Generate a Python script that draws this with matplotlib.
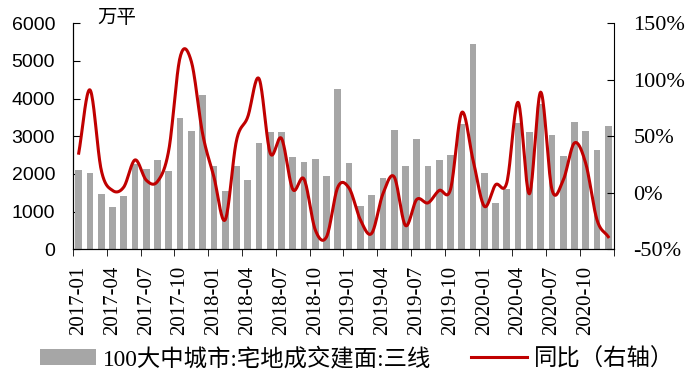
import numpy as np
import matplotlib
matplotlib.use('Agg')
import matplotlib.pyplot as plt
from matplotlib.ticker import FuncFormatter, FixedLocator

plt.rcParams['font.family'] = ['Liberation Serif', 'Noto Sans CJK SC']

# 月份标签 2017-01 ~ 2020-12
months = [f'{y}-{m:02d}' for y in range(2017, 2021) for m in range(1, 13)]

# 100大中城市:宅地成交建面:三线 (万平)
area = [2100, 2020, 1465, 1120, 1410, 2260, 2127, 2365, 2075, 3477, 3133, 4086,
        2206, 1545, 2206, 1836, 2807, 3107, 3107, 2445, 2304, 2383, 1942, 4263,
        2286, 1139, 1439, 1880, 3160, 2206, 2913, 2206, 2365, 2498, 3318, 5437,
        2021, 1227, 1598, 3363, 3107, 3850, 3027, 2480, 3372, 3133, 2630, 3266]

# 同比 (%)
yoy = [35, 91, 20, 2, 5, 29, 11, 10, 38, 120, 116, 52,
       14, -24, 46, 67, 101, 35, 48, 3, 12, -33, -39, 5,
       4, -24, -36, -1, 14, -29, -6, -9, 2, 3, 71, 29,
       -12, 7, 9, 80, -1, 89, 3, 11, 44, 26, -24, -39]


def smooth_curve(x, y, n=20):
    """Catmull-Rom 平滑, 类似 Excel 的平滑线"""
    x = np.asarray(x, float)
    y = np.asarray(y, float)
    px = np.concatenate([[2 * x[0] - x[1]], x, [2 * x[-1] - x[-2]]])
    py = np.concatenate([[2 * y[0] - y[1]], y, [2 * y[-1] - y[-2]]])
    xs, ys = [], []
    t = np.linspace(0, 1, n, endpoint=False)
    for i in range(1, len(px) - 2):
        for arr, out in ((px, xs), (py, ys)):
            p0, p1, p2, p3 = arr[i - 1], arr[i], arr[i + 1], arr[i + 2]
            out.extend(0.5 * (2 * p1 + (-p0 + p2) * t
                              + (2 * p0 - 5 * p1 + 4 * p2 - p3) * t ** 2
                              + (-p0 + 3 * p1 - 3 * p2 + p3) * t ** 3))
    xs.append(x[-1])
    ys.append(y[-1])
    return np.array(xs), np.array(ys)


x = np.arange(len(months))

fig = plt.figure(figsize=(6.96, 3.81), dpi=100)
ax = fig.add_axes([0.105, 0.346, 0.777, 0.593])
ax2 = ax.twinx()

bars = ax.bar(x, area, width=0.6, color='#A6A6A6', zorder=2)
sx, sy = smooth_curve(x, yoy)
line, = ax2.plot(sx, sy, color='#C00000', linewidth=2.2)

ax.set_xlim(-0.5, len(months) - 0.5)
ax.set_ylim(0, 6000)
ax.set_yticks(np.arange(0, 6001, 1000))
ax2.set_ylim(-50, 150)
ax2.set_yticks(np.arange(-50, 151, 50))
ax2.yaxis.set_major_formatter(FuncFormatter(lambda v, p: f'{v:.0f}%'))

# x 轴: 标签每季度, 刻度在柱子边界
ax.set_xticks(x[::3])
ax.set_xticklabels(months[::3], rotation=90, fontsize=15)
ax.tick_params(axis='x', which='major', length=0, pad=12)
ax.xaxis.set_minor_locator(FixedLocator(np.arange(-0.5, len(months), 3)))
ax.tick_params(axis='x', which='minor', length=5, direction='out')

ax.tick_params(axis='y', direction='in', length=5, labelsize=14, pad=13)
for lab in ax.get_yticklabels():
    lab.set_family(['Liberation Sans'])
ax2.tick_params(axis='y', direction='in', length=5, labelsize=16, pad=14)

for a in (ax, ax2):
    a.spines['top'].set_visible(False)
ax.spines['right'].set_visible(False)

fig.text(0.14, 0.982, '万平', fontsize=14, family=['Noto Sans CJK SC'], va='top')

fig.legend([bars, line], ['100大中城市:宅地成交建面:三线', '同比（右轴）'],
           loc='center left', bbox_to_anchor=(0.057, 0.058), ncol=2,
           frameon=False, handlelength=2.4, columnspacing=1.7,
           handletextpad=0.3, borderpad=0, borderaxespad=0,
           prop={'family': ['Liberation Serif', 'Noto Sans CJK SC'], 'size': 16.8})

fig.savefig('out.png', dpi=100)
